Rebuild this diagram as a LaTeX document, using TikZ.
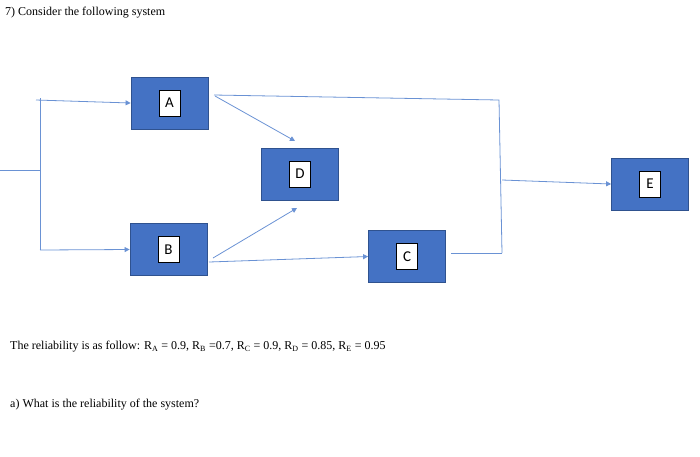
\documentclass[tikz,border=0pt]{standalone}
\usepackage{fontspec}
\setmainfont{Liberation Serif}
\newfontfamily\boxfont{Carlito}
\usetikzlibrary{arrows.meta}
\definecolor{boxblue}{HTML}{4472C4}
\definecolor{boxedge}{HTML}{2F528F}
\definecolor{wire}{HTML}{6A92D4}
\begin{document}
\begin{tikzpicture}[x=1pt,y=-1pt,
  blk/.style={draw=boxedge,fill=boxblue,minimum width=77pt,minimum height=52pt,line width=0.8pt},
  lbl/.style={draw=black,fill=white,minimum width=21pt,minimum height=26pt,font=\boxfont\fontsize{15}{15}\selectfont,inner sep=0pt,line width=0.6pt},
  wr/.style={draw=wire,line width=0.8pt},
  ar/.style={wr,-{Triangle[length=5pt,width=5pt]}},
  txt/.style={anchor=west,font=\fontsize{12}{14}\selectfont,inner sep=0pt}]
\useasboundingbox (0,0) rectangle (700,456);
\node[txt] (t1) at (5,13) {7) Consider the following system};
\node[blk] (A) at (169.5,103) {}; \node[lbl] (a) at (A) {A};
\node[blk] (D) at (300,174) {}; \node[lbl] (d) at (D) {D};
\node[blk] (E) at (650,184) {}; \node[lbl] (e) at (E) {E};
\node[blk] (B) at (168.5,249.5) {}; \node[lbl] (b) at (B) {B};
\node[blk] (C) at (407,256.5) {}; \node[lbl] (c) at (C) {C};
\coordinate (in0) at (0,170); \coordinate (in1) at (40,170);
\coordinate (vt) at (40,98); \coordinate (vb) at (40,250);
\coordinate (pa) at (36,100); \coordinate (pb) at (40,250);
\draw[wr] (in0) -- (in1);
\draw[wr] (vt) -- (vb);
\draw[ar] (pa) -- (A.west);
\draw[ar] (pb) -- (B.west);
\draw[ar] (215,96) -- (295,141);
\draw[ar] (213,258) -- (297,208);
\draw[ar] (209,262) -- (C.west);
\coordinate (r1) at (499,100); \coordinate (r2) at (502,253);
\draw[wr] (214,95) -- (r1) -- (r2);
\draw[wr] (451,253) -- (r2);
\draw[ar] (502,180) -- (E.west);
\node[txt] (t2) at (10,347) {The reliability is as follow: R\textsubscript{A} = 0.9, R\textsubscript{B} =0.7, R\textsubscript{C} = 0.9, R\textsubscript{D} = 0.85, R\textsubscript{E} = 0.95};
\node[txt] (t3) at (10,405) {a) What is the reliability of the system?};
\end{tikzpicture}
\end{document}
